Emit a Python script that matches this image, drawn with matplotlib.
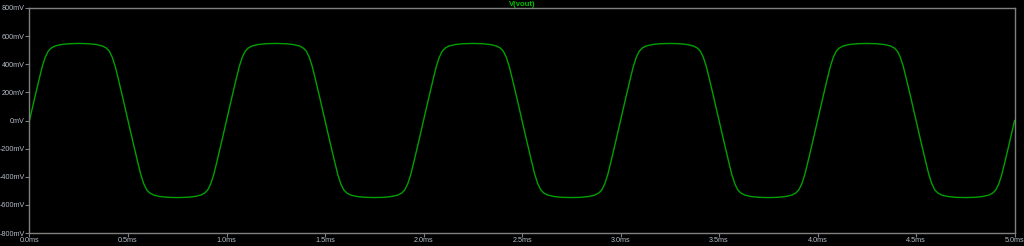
import matplotlib
matplotlib.use("Agg")
import matplotlib.pyplot as plt
import numpy as np

# one period of V(vout) (time in ms, value in mV)
t_period = [0.0, 0.025, 0.05, 0.065, 0.08, 0.095, 0.11, 0.13, 0.16, 0.2, 0.25,
            0.3, 0.34, 0.37, 0.39, 0.405, 0.42, 0.435, 0.45, 0.475, 0.5,
            0.525, 0.55, 0.565, 0.58, 0.595, 0.61, 0.63, 0.66, 0.7, 0.75,
            0.8, 0.84, 0.87, 0.89, 0.905, 0.92, 0.935, 0.95, 0.975]
v_period = [0, 152, 300, 385, 450, 493, 515, 530, 540, 546, 548,
            546, 540, 530, 515, 493, 450, 385, 300, 152, 0,
            -152, -300, -385, -450, -493, -515, -530, -540, -546, -548,
            -546, -540, -530, -515, -493, -450, -385, -300, -152]
n_periods = 5

yticks = [800, 600, 400, 200, 0, -200, -400, -600, -800]
xticks = [0.0, 0.5, 1.0, 1.5, 2.0, 2.5, 3.0, 3.5, 4.0, 4.5, 5.0]

t = np.concatenate([np.array(t_period) + k for k in range(n_periods)] + [[n_periods]])
v = np.concatenate([v_period] * n_periods + [[0]])

plt.rcParams["font.family"] = ["Liberation Sans", "DejaVu Sans"]

fig = plt.figure(figsize=(10.24, 2.46), dpi=100, facecolor="black")
ax = fig.add_axes([0.0288, 0.0528, 0.962, 0.9147], facecolor="black")

ax.plot(t, v, color="#00a000", lw=1.0)

ax.set_xlim(0, 5)
ax.set_ylim(-800, 800)
ax.set_xticks(xticks)
ax.set_xticklabels([f"{x:.1f}ms" for x in xticks])
ax.set_yticks(yticks)
ax.set_yticklabels([f"{y}mV" for y in yticks])

for s in ax.spines.values():
    s.set_color("#808080")
    s.set_linewidth(1.0)
ax.tick_params(colors="#808080", length=2.8, width=0.8, pad=0.4)
for lab in ax.get_xticklabels() + ax.get_yticklabels():
    lab.set_color("#b4bcc8")
    lab.set_fontsize(5.2)

fig.text(0.51, 0.995, "V(vout)", color="#00c000", fontsize=5.5,
         fontweight="bold", ha="center", va="top")

fig.savefig("out.png", dpi=100, facecolor="black")
